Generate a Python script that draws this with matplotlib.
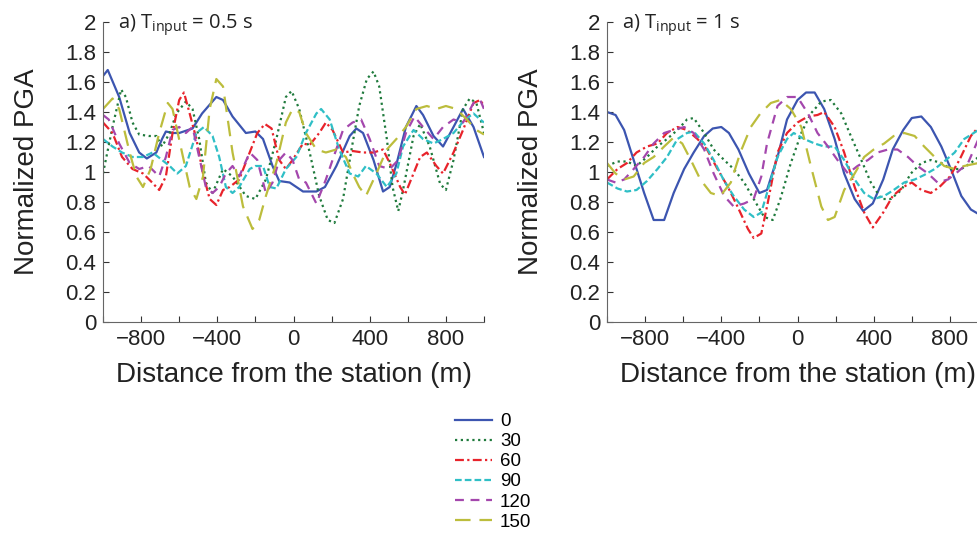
import matplotlib
matplotlib.use('Agg')
import matplotlib.pyplot as plt
import numpy as np

plt.rcParams['font.family'] = ['Liberation Sans', 'DejaVu Sans']
plt.rcParams['mathtext.default'] = 'regular'

# Ángulos / series (leyenda)
series_labels = ['0', '30', '60', '90', '120', '150']
series_colors = ['#3c55b0', '#1f7a3c', '#e8232b', '#2fbfc6', '#a447ad', '#bcbd3c']
series_styles = ['-', (0, (1, 1.6)), (0, (4, 1.5, 1, 1.5)), (0, (3, 1.4)),
                 (0, (4, 3)), (0, (7, 4))]

# ---- Panel a) T_input = 0.5 s ----
x05_0 = [-1000, -975, -915, -860, -810, -770, -720, -690, -670, -635, -600, -530, -480, -405,
         -370, -320, -250, -200, -160, -110, -75, -20, 50, 120, 165, 225, 295, 330, 365, 420,
         470, 505, 540, 590, 645, 680, 735, 785, 840, 890, 945, 1000]
y05_0 = [1.64, 1.68, 1.5, 1.26, 1.13, 1.09, 1.13, 1.22, 1.27, 1.26, 1.26, 1.29, 1.39, 1.5,
         1.48, 1.37, 1.26, 1.27, 1.22, 1.04, 0.94, 0.93, 0.87, 0.87, 0.9, 1.04, 1.24, 1.29, 1.26, 1.08,
         0.87, 0.9, 1.05, 1.3, 1.44, 1.38, 1.24, 1.17, 1.3, 1.42, 1.3, 1.1]

x05_30 = [-1000, -950, -905, -880, -845, -810, -760, -720, -690, -650, -615, -565, -530, -495,
          -460, -425, -370, -320, -250, -200, -145, -90, -40, -10, 30, 85, 135, 180, 215, 260,
          310, 345, 385, 420, 450, 490, 520, 550, 575, 630, 665, 715, 770, 800, 840, 890, 925,
          960, 1000]
y05_30 = [0.99, 1.3, 1.55, 1.5, 1.33, 1.25, 1.24, 1.24, 1.17, 1.26, 1.39, 1.47, 1.42, 1.22,
          0.93, 0.86, 1.02, 0.97, 0.84, 0.82, 0.95, 1.22, 1.5, 1.54, 1.42, 1.13, 0.84, 0.68, 0.66, 0.82,
          1.19, 1.44, 1.62, 1.67, 1.57, 1.22, 0.9, 0.74, 0.88, 1.24, 1.32, 1.17, 0.92, 0.88, 1.08, 1.42, 1.49,
          1.46, 1.26]

x05_60 = [-1000, -950, -900, -845, -790, -750, -705, -670, -635, -600, -575, -545, -510, -475,
          -440, -405, -370, -335, -285, -230, -190, -150, -115, -75, -40, -5, 50, 85, 135, 170,
          205, 260, 310, 365, 420, 470, 505, 560, 585, 630, 665, 700, 750, 785, 840, 890, 945,
          980, 1000]
y05_60 = [1.33, 1.26, 1.1, 1.02, 0.99, 0.94, 0.88, 0.97, 1.26, 1.48, 1.53, 1.39, 1.22, 0.99,
          0.82, 0.78, 0.88, 0.9, 0.95, 1.13, 1.26, 1.32, 1.29, 1.08, 1.02, 1.08, 1.19, 1.18, 1.26, 1.33,
          1.28, 1.13, 1.14, 1.13, 1.13, 1.15, 1.06, 0.9, 0.85, 0.99, 1.1, 1.13, 1.04, 0.99, 1.13, 1.28, 1.46,
          1.48, 1.44]

x05_90 = [-1000, -950, -900, -845, -790, -740, -690, -650, -610, -565, -510, -470, -425, -390,
          -355, -320, -285, -230, -200, -160, -125, -90, -40, 15, 65, 120, 145, 190, 240, 295,
          340, 380, 435, 490, 540, 575, 630, 680, 735, 785, 840, 900, 945, 980, 1000]
y05_90 = [1.22, 1.17, 1.13, 1.1, 1.1, 1.13, 1.08, 1.04, 0.99, 1.04, 1.26, 1.3, 1.24, 1.1,
          0.9, 0.86, 0.9, 1.02, 1.04, 1.04, 0.9, 0.89, 1.02, 1.1, 1.26, 1.39, 1.42, 1.35, 1.15, 0.99,
          0.97, 1.04, 0.99, 0.9, 0.99, 1.17, 1.28, 1.22, 1.19, 1.22, 1.26, 1.35, 1.39, 1.35, 1.33]

x05_120 = [-1000, -970, -915, -860, -810, -760, -705, -670, -635, -600, -565, -530, -495, -460,
           -425, -390, -355, -320, -285, -230, -190, -145, -110, -75, -40, -5, 30, 65, 120, 170,
           205, 260, 310, 355, 400, 450, 505, 550, 590, 635, 680, 735, 785, 840, 890, 945, 980,
           1000]
y05_120 = [1.38, 1.35, 1.19, 1.06, 1.02, 1.04, 0.97, 1.1, 1.28, 1.3, 1.26, 1.3, 1.1, 0.9,
           0.86, 0.9, 0.99, 1.04, 0.97, 1.13, 1.08, 0.86, 0.93, 1.08, 1.13, 1.08, 0.95, 0.93, 0.79, 0.95,
           1.08, 1.28, 1.33, 1.35, 1.22, 1.04, 1.02, 1.08, 1.26, 1.37, 1.3, 1.22, 1.3, 1.35, 1.33, 1.46, 1.48,
           1.42]

x05_150 = [-1000, -950, -915, -860, -825, -790, -750, -705, -660, -635, -580, -545, -510, -475,
           -440, -405, -370, -320, -265, -215, -180, -145, -90, -40, -5, 30, 65, 120, 170, 225,
           275, 310, 345, 380, 435, 490, 540, 590, 645, 700, 750, 800, 855, 910, 960, 1000]
y05_150 = [1.42, 1.49, 1.42, 1.13, 0.97, 0.9, 1.02, 1.26, 1.46, 1.42, 1.1, 0.9, 0.82, 0.97,
           1.42, 1.62, 1.57, 1.13, 0.77, 0.62, 0.68, 0.84, 1.06, 1.33, 1.42, 1.4, 1.26, 1.15, 1.13, 1.15,
           1.1, 0.99, 0.9, 0.84, 0.99, 1.15, 1.22, 1.3, 1.42, 1.44, 1.42, 1.44, 1.42, 1.35, 1.28, 1.25]

# ---- Panel a) T_input = 1 s ----
x1_0 = [-1000, -955, -910, -860, -805, -755, -700, -650, -595, -545, -490, -445, -400, -360,
        -310, -255, -200, -160, -105, -55, 0, 45, 90, 140, 195, 245, 300, 345, 395, 450, 500,
        555, 600, 650, 700, 755, 805, 860, 910, 950, 1000]
y1_0 = [1.4, 1.38, 1.28, 1.08, 0.86, 0.68, 0.68, 0.86, 1.02, 1.13, 1.24, 1.29, 1.3, 1.26,
        1.15, 0.99, 0.86, 0.88, 1.1, 1.35, 1.48, 1.53, 1.53, 1.42, 1.22, 0.99, 0.82, 0.74, 0.79, 0.95, 1.15,
        1.28, 1.36, 1.37, 1.3, 1.17, 1.02, 0.84, 0.75, 0.72, 0.7]

x1_30 = [-1000, -945, -895, -845, -790, -735, -685, -630, -580, -545, -490, -440, -385, -335,
         -280, -230, -175, -130, -90, -35, 20, 70, 125, 175, 230, 280, 335, 385, 440, 490, 545,
         595, 650, 700, 755, 805, 860, 910, 950, 1000]
y1_30 = [1.04, 1.07, 1.07, 1.04, 1.1, 1.17, 1.22, 1.28, 1.35, 1.36, 1.26, 1.15, 1.08, 1.02,
         0.93, 0.82, 0.7, 0.68, 0.82, 1.06, 1.26, 1.39, 1.47, 1.48, 1.39, 1.24, 1.08, 0.93, 0.82, 0.82, 0.88,
         0.99, 1.06, 1.08, 1.06, 1.02, 1.02, 1.06, 1.1, 1.12]

x1_60 = [-1000, -945, -895, -845, -790, -735, -685, -630, -580, -525, -475, -420, -365, -315,
         -260, -230, -190, -160, -105, -55, 0, 55, 105, 140, 195, 245, 300, 350, 395, 450, 500,
         555, 600, 650, 700, 745, 800, 850, 910, 950, 1000]
y1_60 = [0.95, 1.02, 1.06, 1.13, 1.17, 1.19, 1.26, 1.3, 1.28, 1.22, 1.15, 1.02, 0.9, 0.77,
         0.62, 0.56, 0.59, 0.77, 1.13, 1.26, 1.33, 1.37, 1.38, 1.4, 1.3, 1.13, 0.9, 0.73, 0.63, 0.73, 0.84,
         0.9, 0.93, 0.88, 0.86, 0.9, 0.97, 1.08, 1.24, 1.3, 1.36]

x1_90 = [-1000, -945, -895, -845, -790, -735, -685, -630, -580, -545, -490, -440, -385, -335,
         -280, -230, -190, -160, -105, -55, -20, 35, 90, 140, 195, 245, 300, 350, 400, 455, 505,
         560, 615, 665, 720, 770, 825, 875, 950, 1000]
y1_90 = [0.93, 0.89, 0.87, 0.88, 0.94, 1.02, 1.1, 1.22, 1.26, 1.27, 1.19, 1.08, 0.94, 0.84,
         0.75, 0.7, 0.73, 0.86, 1.1, 1.22, 1.26, 1.22, 1.19, 1.17, 1.17, 1.08, 0.95, 0.86, 0.82, 0.84, 0.88,
         0.93, 0.95, 0.98, 1.02, 1.07, 1.13, 1.22, 1.28, 1.32]

x1_120 = [-1000, -955, -910, -860, -805, -755, -700, -650, -595, -545, -490, -440, -385, -335,
          -280, -230, -190, -160, -105, -55, 0, 55, 105, 160, 210, 265, 315, 370, 420, 475, 525,
          580, 630, 685, 735, 790, 840, 895, 950, 1000]
y1_120 = [0.95, 0.93, 0.95, 1.02, 1.1, 1.19, 1.26, 1.28, 1.3, 1.26, 1.15, 0.99, 0.84, 0.77,
          0.79, 0.82, 0.97, 1.19, 1.44, 1.5, 1.5, 1.39, 1.26, 1.17, 1.08, 0.99, 1.04, 1.08, 1.13, 1.15, 1.15,
          1.1, 1.04, 0.99, 0.93, 0.95, 1.0, 1.06, 1.22, 1.3]

x1_150 = [-1000, -955, -910, -860, -805, -755, -700, -650, -605, -560, -510, -455, -405, -350,
          -300, -245, -195, -140, -90, -35, 20, 70, 125, 160, 195, 245, 300, 350, 400, 455, 505,
          560, 615, 665, 720, 770, 825, 875, 950, 1000]
y1_150 = [1.06, 0.99, 0.95, 0.97, 1.06, 1.1, 1.17, 1.23, 1.19, 1.08, 0.95, 0.86, 0.84, 0.93,
          1.13, 1.3, 1.39, 1.46, 1.48, 1.42, 1.3, 1.04, 0.77, 0.68, 0.7, 0.88, 0.99, 1.1, 1.15, 1.19, 1.24,
          1.26, 1.24, 1.17, 1.1, 1.04, 1.02, 1.04, 1.06, 1.07]

panel_titles = [r'a) T$_{input}$ = 0.5 s', r'a) T$_{input}$ = 1 s']
xs_panels = [[x05_0, x05_30, x05_60, x05_90, x05_120, x05_150],
             [x1_0, x1_30, x1_60, x1_90, x1_120, x1_150]]
ys_panels = [[y05_0, y05_30, y05_60, y05_90, y05_120, y05_150],
             [y1_0, y1_30, y1_60, y1_90, y1_120, y1_150]]

y_ticks = np.arange(0, 2.01, 0.2)
x_ticks_minor = np.arange(-1000, 1001, 200)
x_ticks = [-800, -400, 0, 400, 800]

W, H = 977, 535
fig = plt.figure(figsize=(W / 100, H / 100), dpi=100)

lefts = [103, 607]
ax_w = 381
ax_top, ax_bot = 22, 322

for k in range(2):
    ax = fig.add_axes([lefts[k] / W, 1 - ax_bot / H, ax_w / W, (ax_bot - ax_top) / H])
    lines = []
    for i in range(6):
        ln, = ax.plot(xs_panels[k][i], ys_panels[k][i], color=series_colors[i],
                      linestyle=series_styles[i], linewidth=1.6, label=series_labels[i])
        lines.append(ln)
    ax.set_xlim(-1000, 1000)
    ax.set_ylim(0, 2)
    ax.set_yticks(y_ticks)
    ax.set_yticklabels(['%g' % round(v, 1) for v in y_ticks])
    ax.set_xticks(x_ticks)
    ax.set_xticklabels(['\u2212%d' % -v if v < 0 else '%d' % v for v in x_ticks])
    ax.set_xticks(x_ticks_minor, minor=True)
    ax.tick_params(axis='both', which='both', direction='in', length=4, width=0.8,
                   labelsize=16, pad=5, colors='#333333')
    ax.tick_params(axis='y', labelcolor='#222222')
    ax.tick_params(axis='x', labelcolor='#222222')
    for s in ['top', 'right']:
        ax.spines[s].set_visible(False)
    for s in ['left', 'bottom']:
        ax.spines[s].set_color('#666666')
        ax.spines[s].set_linewidth(0.8)
    ax.set_xlabel('Distance from the station (m)', fontsize=20, labelpad=9, color='#222222')
    ax.set_ylabel('Normalized PGA', fontsize=20, labelpad=18, color='#222222')
    ax.text(0.04, 0.99, panel_titles[k], transform=ax.transAxes, fontsize=14.5,
            va='center', ha='left', color='#222222', family=['Open Sans', 'DejaVu Sans'])

fig.legend(lines, series_labels, loc='upper left', bbox_to_anchor=(455 / W, 1 - 413 / H),
           frameon=False, fontsize=13.5, handlelength=1.95, handletextpad=0.45,
           labelspacing=0.16, borderpad=0, borderaxespad=0)

fig.savefig('out.png', dpi=100)
